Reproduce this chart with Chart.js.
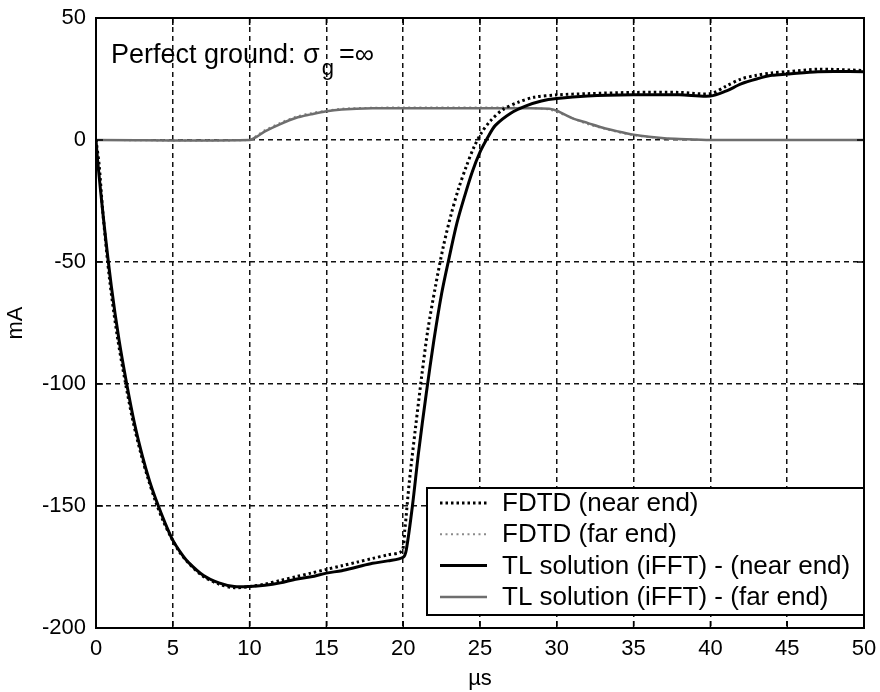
<!DOCTYPE html>
<html>
<head>
<meta charset="utf-8">
<script src="https://cdn.jsdelivr.net/npm/chart.js@4.4.0/dist/chart.umd.min.js"></script>
<style>
  body { margin: 0; background: #fff; }
  canvas { display: block; }
</style>
</head>
<body>
<canvas id="myChart" width="880" height="692"></canvas>
<script>
// time axis in microseconds, currents in mA
var xTicks = [0, 5, 10, 15, 20, 25, 30, 35, 40, 45, 50];
var yTicks = [-200, -150, -100, -50, 0, 50];

var seriesLabels = [
    'FDTD (near end)',
    'FDTD (far end)',
    'TL solution (iFFT) - (near end)',
    'TL solution (iFFT) - (far end)'
];

var fdtdNear = [
    [0, 0], [0.2, -10], [0.45, -30], [0.9, -58], [1.4, -81], [1.9, -99], [2.4, -115],
    [2.9, -128], [3.4, -139], [3.9, -148.5], [4.4, -156.5], [4.9, -163], [5.4, -168.5],
    [5.9, -172.5], [6.9, -178.5], [8, -182], [9, -183.5], [10, -183], [11, -182],
    [12, -180.5], [13, -179], [14, -177.5], [15, -176], [16, -174.5], [17, -173],
    [18, -171.5], [19, -170], [19.9, -168.5],
    [20.1, -160], [20.4, -140], [20.8, -118], [21.2, -97], [21.6, -78], [22.1, -60],
    [22.6, -44], [23.1, -31], [23.6, -20], [24.1, -11], [24.6, -3], [25.1, 3], [25.7, 8],
    [26.5, 12.5], [27.5, 15.5], [28.5, 17.5], [30, 18.5], [32, 19], [35, 19.5], [38, 19.5],
    [40, 19], [41, 22], [42, 25], [43, 26.5], [44, 27.5], [45, 28], [47, 29], [50, 28.5]
];

var fdtdFar = [
    [0, 0], [10, 0], [10.5, 2], [11, 4], [12, 7], [13, 9.5], [14, 11], [15, 12],
    [16, 12.8], [18, 13.2], [20, 13.3], [25, 13.3], [28, 13.2], [29.5, 12.5], [30, 11.5],
    [31, 9], [32, 6.5], [33, 4.8], [34, 3.2], [35, 2], [36, 1.2], [37, 0.6], [38, 0.3],
    [40, 0], [50, 0]
];

var tlNear = [
    [0, 0], [0.1, -8], [0.5, -33], [1.0, -60], [1.5, -82], [2.0, -100], [2.5, -116],
    [3.0, -129], [3.5, -140], [4.0, -149], [4.5, -157], [5.0, -164], [5.5, -169],
    [6, -173], [7, -178.5], [8, -181.5], [9, -183], [10, -183], [11, -182.5],
    [12, -181.5], [13, -180], [14, -179], [15, -177.5], [16, -176.5], [17, -175],
    [18, -173.5], [19, -172.5], [20, -171], [20.2, -168],
    [20.6, -150], [21, -128], [21.5, -104], [22, -82], [22.5, -63], [23, -48], [23.5, -34],
    [24, -23], [24.5, -13], [25, -5], [25.5, 1], [26, 6], [27, 11], [28, 14], [29, 16],
    [30, 17], [32, 18], [35, 18.5], [38, 18.5], [40, 18], [41, 20], [42, 23], [43, 25],
    [44, 26.5], [45, 27], [47, 28], [50, 28]
];

var tlFar = [
    [0, 0], [10, 0], [10.5, 1.5], [11, 3.5], [12, 6.5], [13, 9], [14, 10.5], [15, 11.8],
    [16, 12.5], [18, 13], [20, 13], [25, 13], [28, 13], [29.5, 12.8], [30, 12], [31, 9],
    [32, 7], [33, 5], [34, 3.5], [35, 2.2], [36, 1.3], [37, 0.7], [38, 0.4], [40, 0], [50, 0]
];

function toPoints(arr) {
    return arr.map(function(p) { return {x: p[0], y: p[1]}; });
}

var FONT = 'Liberation Sans, Arial, sans-serif';

// box round the axes with small inward ticks, like a MATLAB plot
var framePlugin = {
    id: 'frame',
    afterDraw: function(chart) {
        var ctx = chart.ctx;
        var a = chart.chartArea;
        var xs = chart.scales.x, ys = chart.scales.y;
        ctx.save();
        ctx.strokeStyle = '#000';
        ctx.lineWidth = 2;
        ctx.setLineDash([]);
        ctx.strokeRect(a.left, a.top, a.right - a.left, a.bottom - a.top);
        ctx.lineWidth = 1.5;
        ctx.beginPath();
        xTicks.forEach(function(v) {
            var px = xs.getPixelForValue(v);
            ctx.moveTo(px, a.bottom); ctx.lineTo(px, a.bottom - 7);
            ctx.moveTo(px, a.top); ctx.lineTo(px, a.top + 7);
        });
        yTicks.forEach(function(v) {
            var py = ys.getPixelForValue(v);
            ctx.moveTo(a.left, py); ctx.lineTo(a.left + 7, py);
            ctx.moveTo(a.right, py); ctx.lineTo(a.right - 7, py);
        });
        ctx.stroke();
        ctx.restore();
    }
};

// caption in the top-left corner
var captionPlugin = {
    id: 'caption',
    afterDraw: function(chart) {
        var ctx = chart.ctx;
        var a = chart.chartArea;
        ctx.save();
        ctx.fillStyle = '#000';
        ctx.textBaseline = 'alphabetic';
        ctx.font = '27px ' + FONT;
        var x = a.left + 15, y = a.top + 45;
        var s1 = 'Perfect ground: \u03C3';
        ctx.fillText(s1, x, y);
        x += ctx.measureText(s1).width;
        ctx.font = '22px ' + FONT;
        ctx.fillText('g', x + 2, y + 12);
        x += ctx.measureText('g').width + 7;
        ctx.font = '27px ' + FONT;
        ctx.fillText('=\u221E', x, y);
        ctx.restore();
    }
};

// legend box in the lower-right corner
var legendBoxPlugin = {
    id: 'legendBox',
    afterDraw: function(chart) {
        var ctx = chart.ctx;
        var a = chart.chartArea;
        var boxL = 427, boxT = 488, boxR = a.right, boxB = 615;
        ctx.save();
        ctx.fillStyle = '#fff';
        ctx.fillRect(boxL, boxT, boxR - boxL, boxB - boxT);
        ctx.strokeStyle = '#000';
        ctx.lineWidth = 2;
        ctx.setLineDash([]);
        ctx.strokeRect(boxL, boxT, boxR - boxL, boxB - boxT);
        ctx.font = '26px ' + FONT;
        ctx.textBaseline = 'middle';
        chart.data.datasets.forEach(function(ds, i) {
            var y = 503 + i * 31.3;
            ctx.beginPath();
            ctx.strokeStyle = ds.borderColor;
            ctx.lineWidth = ds.borderWidth;
            ctx.setLineDash(ds.borderDash || []);
            ctx.moveTo(440, y);
            ctx.lineTo(487, y);
            ctx.stroke();
            ctx.fillStyle = '#000';
            ctx.fillText(ds.label, 502, y + 1);
        });
        ctx.restore();
    }
};

var ctx = document.getElementById('myChart').getContext('2d');
var myChart = new Chart(ctx, {
    type: 'line',
    data: {
        datasets: [{
            label: seriesLabels[0],
            data: toPoints(fdtdNear),
            borderColor: '#000',
            borderWidth: 3,
            borderDash: [2.5, 3],
            order: 1
        }, {
            label: seriesLabels[1],
            data: toPoints(fdtdFar),
            borderColor: '#8a8a8a',
            borderWidth: 2,
            borderDash: [2, 3.5],
            order: 3
        }, {
            label: seriesLabels[2],
            data: toPoints(tlNear),
            borderColor: '#000',
            borderWidth: 3,
            order: 0
        }, {
            label: seriesLabels[3],
            data: toPoints(tlFar),
            borderColor: '#6e6e6e',
            borderWidth: 2.5,
            order: 2
        }]
    },
    options: {
        responsive: false,
        animation: false,
        devicePixelRatio: 1,
        elements: {
            point: { radius: 0 },
            line: { tension: 0.3, fill: false }
        },
        layout: { padding: { left: 0, right: 16, top: 18, bottom: 0 } },
        plugins: {
            legend: { display: false },
            tooltip: { enabled: false }
        },
        scales: {
            x: {
                type: 'linear',
                min: 0,
                max: 50,
                afterFit: function(s) {
                    s.height = 64;
                    s.paddingLeft = 0;
                    s.paddingRight = 0;
                },
                afterBuildTicks: function(s) {
                    s.ticks = xTicks.map(function(v) { return {value: v}; });
                },
                grid: { color: '#111', lineWidth: 1.5, drawTicks: false },
                border: { display: true, color: '#000', width: 2, dash: [5, 4] },
                ticks: { color: '#000', padding: 8, font: { family: FONT, size: 22 } },
                title: {
                    display: true,
                    text: '\u00B5s',
                    color: '#000',
                    padding: { top: 0, bottom: 0 },
                    font: { family: FONT, size: 22 }
                }
            },
            y: {
                type: 'linear',
                min: -200,
                max: 50,
                afterFit: function(s) {
                    s.width = 96;
                    s.paddingTop = 0;
                    s.paddingBottom = 0;
                },
                afterBuildTicks: function(s) {
                    s.ticks = yTicks.map(function(v) { return {value: v}; });
                },
                grid: { color: '#111', lineWidth: 1.5, drawTicks: false },
                border: { display: true, color: '#000', width: 2, dash: [5, 4] },
                ticks: { color: '#000', padding: 10, font: { family: FONT, size: 22 } },
                title: {
                    display: true,
                    text: 'mA',
                    color: '#000',
                    padding: { top: 3, bottom: 0 },
                    font: { family: FONT, size: 22 }
                }
            }
        }
    },
    plugins: [framePlugin, captionPlugin, legendBoxPlugin]
});
</script>
</body>
</html>
